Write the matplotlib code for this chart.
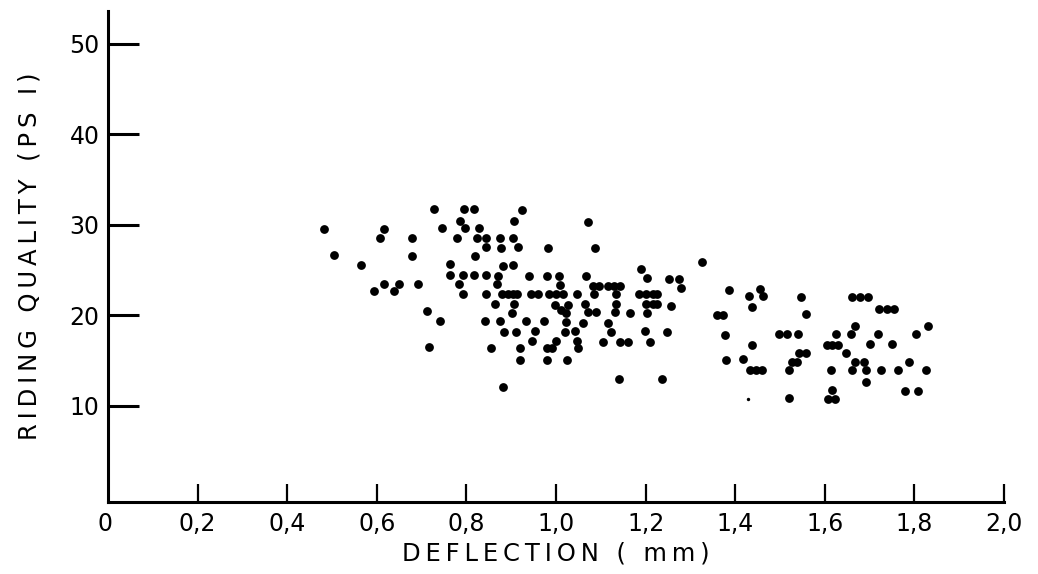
import matplotlib
matplotlib.use("Agg")
import matplotlib.pyplot as plt

# Deflection (mm) and riding quality (PSI)
deflection = [
    0.482, 0.504, 0.565, 0.615, 0.608, 0.617, 0.593, 0.639, 0.649, 0.678,
    0.678, 0.691, 0.712, 0.740, 0.717,
    0.728, 0.795, 0.818, 0.925, 0.786, 0.906, 0.746, 0.797, 0.829, 0.778,
    0.824, 0.844, 0.874, 0.903, 0.844, 0.877, 0.916, 0.819, 0.763, 0.881,
    0.903, 0.763, 0.793, 0.817, 0.844, 0.871, 0.783, 0.868, 0.793, 0.843,
    0.983, 1.072, 1.087,
    0.940, 0.979, 1.007, 1.009,
    0.879, 0.892, 0.905, 0.914, 0.945, 0.960, 0.985, 1.000, 1.016,
    0.864, 0.907, 0.901,
    0.998, 1.011, 1.027, 1.022,
    0.842, 0.875, 0.932, 0.974, 1.022,
    0.885, 0.911, 0.953, 1.021,
    0.947, 1.000,
    0.856, 0.920, 0.979, 0.992,
    0.920, 0.979, 1.024,
    0.881,
    1.189, 1.204, 1.067,
    1.082, 1.097, 1.084, 1.046,
    1.115, 1.129, 1.143, 1.135,
    1.186, 1.201, 1.216, 1.226,
    1.065, 1.072, 1.089,
    1.133, 1.132, 1.165,
    1.201, 1.216, 1.226, 1.204,
    1.061, 1.117,
    1.042, 1.122, 1.199,
    1.046, 1.050, 1.104, 1.143, 1.161, 1.210,
    1.141, 1.236,
    1.327, 1.253, 1.275, 1.278, 1.257, 1.248, 1.387, 1.359, 1.372, 1.378,
    1.379,
    1.455, 1.461, 1.431, 1.438, 1.547, 1.559, 1.498, 1.515, 1.541, 1.438,
    1.418, 1.433, 1.446, 1.459, 1.543, 1.559, 1.526, 1.539, 1.519, 1.520,
    1.626, 1.604, 1.617, 1.630, 1.647, 1.613, 1.617, 1.608, 1.623,
    1.661, 1.679, 1.697, 1.721, 1.738, 1.754, 1.667, 1.831, 1.658, 1.718,
    1.803, 1.702, 1.751, 1.789, 1.667, 1.688, 1.660, 1.693, 1.725, 1.764,
    1.826, 1.693, 1.779, 1.807,
]
riding_quality = [
    29.5, 26.7, 25.6, 29.5, 28.5, 23.5, 22.7, 22.7, 23.5, 28.5,
    26.6, 23.5, 20.5, 19.4, 16.5,
    31.7, 31.7, 31.7, 31.6, 30.4, 30.4, 29.6, 29.6, 29.6, 28.5,
    28.5, 28.5, 28.5, 28.5, 27.5, 27.4, 27.5, 26.6, 25.7, 25.5,
    25.6, 24.5, 24.5, 24.5, 24.5, 24.4, 23.5, 23.5, 22.4, 22.4,
    27.4, 30.3, 27.4,
    24.4, 24.4, 24.3, 23.4,
    22.4, 22.4, 22.4, 22.4, 22.4, 22.4, 22.4, 22.4, 22.4,
    21.3, 21.3, 20.3,
    21.2, 20.6, 21.1, 20.3,
    19.4, 19.4, 19.4, 19.4, 19.3,
    18.2, 18.2, 18.3, 18.2,
    17.2, 17.2,
    16.4, 16.4, 16.4, 16.4,
    15.1, 15.1, 15.1,
    12.1,
    25.1, 24.1, 24.3,
    23.2, 23.2, 22.4, 22.4,
    23.2, 23.2, 23.2, 22.4,
    22.4, 22.4, 22.4, 22.4,
    21.3, 20.4, 20.4,
    21.3, 20.4, 20.3,
    21.3, 21.3, 21.3, 20.3,
    19.2, 19.2,
    18.3, 18.2, 18.3,
    17.2, 16.4, 17.1, 17.1, 17.1, 17.1,
    13.0, 13.0,
    25.9, 24.0, 24.0, 23.0, 21.0, 18.2, 22.8, 20.0, 20.0, 17.8,
    15.1,
    22.9, 22.1, 22.1, 20.9, 22.0, 20.1, 17.9, 17.9, 17.9, 16.7,
    15.2, 14.0, 14.0, 14.0, 15.8, 15.8, 14.9, 14.9, 14.0, 10.9,
    17.9, 16.7, 16.7, 16.7, 15.8, 14.0, 11.8, 10.8, 10.8,
    22.0, 22.0, 22.0, 20.7, 20.7, 20.7, 18.8, 18.8, 17.9, 17.9,
    17.9, 16.8, 16.8, 14.9, 14.8, 14.8, 14.0, 14.0, 14.0, 14.0,
    14.0, 12.6, 11.6, 11.6,
]
# a tiny stray dot in the reference
speck_x = [1.429]
speck_y = [10.8]

x_ticks = [0.0, 0.2, 0.4, 0.6, 0.8, 1.0, 1.2, 1.4, 1.6, 1.8, 2.0]
x_tick_labels = ["0", "0,2", "0,4", "0,6", "0,8", "1,0", "1,2", "1,4", "1,6", "1,8", "2,0"]
y_ticks = [10, 20, 30, 40, 50]
y_tick_labels = ["10", "20", "30", "40", "50"]
x_label = "DEFLECTION ( mm)"
y_label = "RIDING QUALITY (PS I)"


def spaced(s):
    # widen letter spacing like the stencilled original
    return "\u2009".join(s)


plt.rcParams["font.family"] = ["DejaVu Sans"]

fig = plt.figure(figsize=(10.38, 5.74), dpi=100)
ax = fig.add_axes([108 / 1038, 72 / 574, 896 / 1038, 491 / 574])

ax.scatter(deflection, riding_quality, s=40, color="black", linewidths=0, zorder=3)
ax.scatter(speck_x, speck_y, s=6, color="black", linewidths=0, zorder=3)

ax.set_xlim(0, 2.0)
ax.set_ylim(-0.6, 53.6)

for side in ("top", "right"):
    ax.spines[side].set_visible(False)
for side in ("left", "bottom"):
    ax.spines[side].set_linewidth(2.2)
    ax.spines[side].set_color("black")

ax.set_xticks(x_ticks[1:])
ax.set_xticklabels(x_tick_labels[1:])
ax.set_yticks(y_ticks)
ax.set_yticklabels(y_tick_labels)
ax.tick_params(axis="x", direction="in", length=13, width=1.6, pad=7, labelsize=17)
ax.tick_params(axis="y", direction="in", length=22, width=2.2, pad=6, labelsize=17)
ax.annotate(x_tick_labels[0], xy=(0, 0), xycoords="axes fraction",
            xytext=(-2, -7), textcoords="offset points", ha="center", va="top",
            fontsize=17)

ax.set_xlabel(spaced(x_label), fontsize=17.5, labelpad=4)
ax.set_ylabel(spaced(y_label), fontsize=17.5, labelpad=20)

fig.savefig("out.png", dpi=100, facecolor="white")
